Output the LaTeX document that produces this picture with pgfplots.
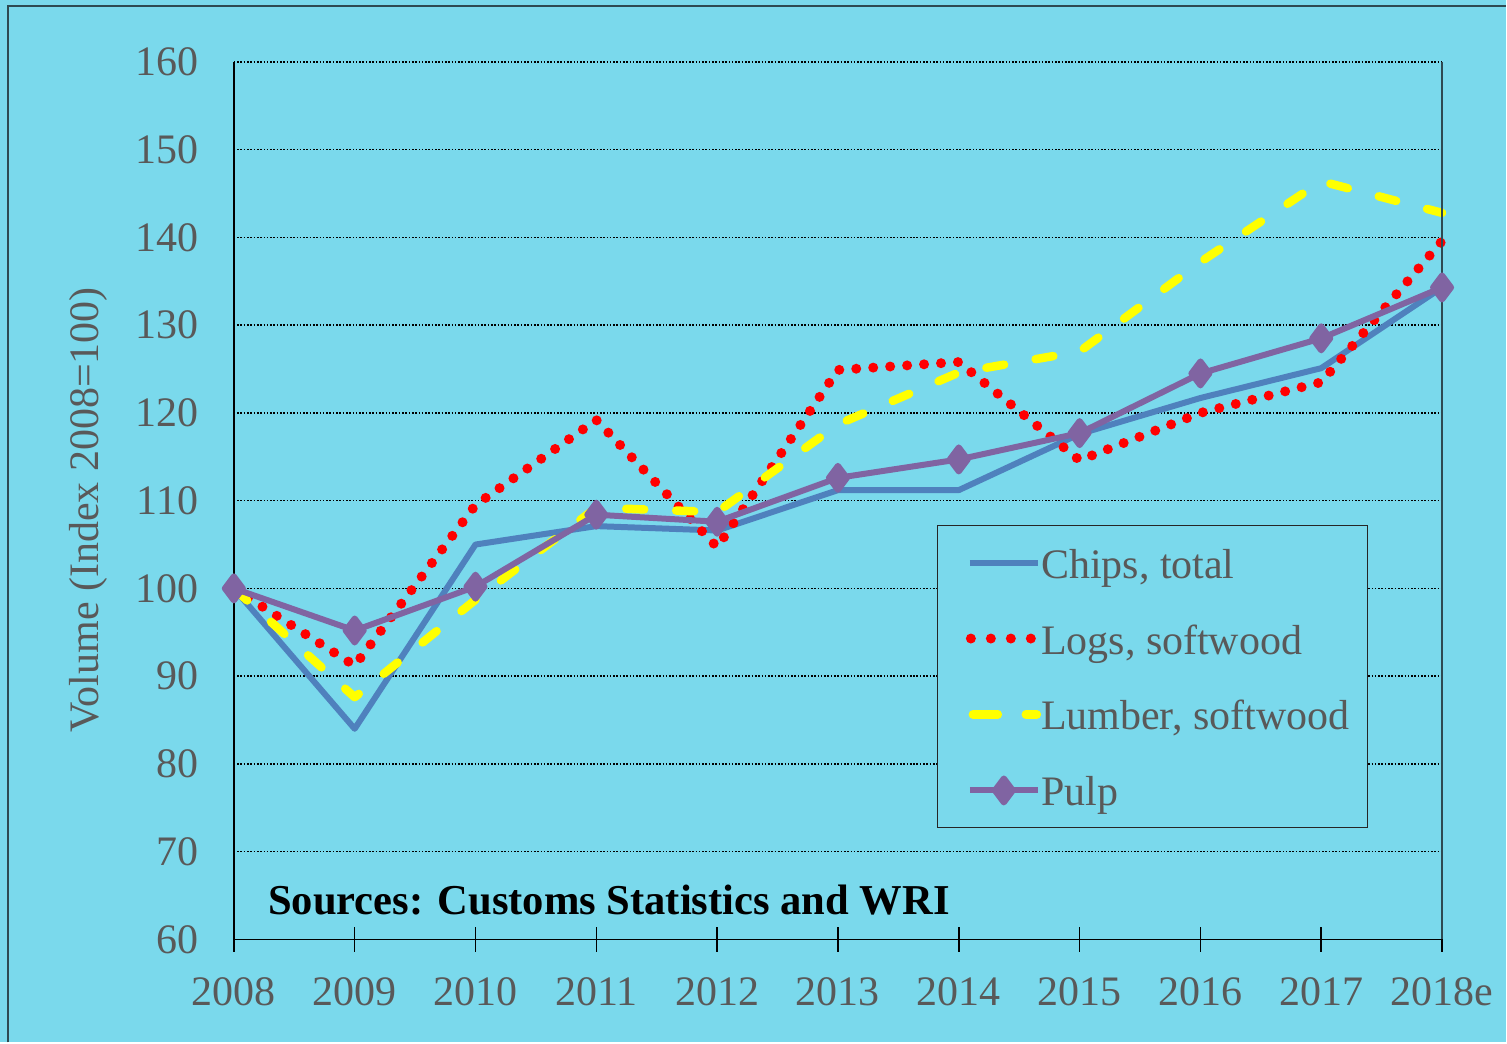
\documentclass[border=0pt]{standalone}
\usepackage{fontspec}
\setmainfont{Liberation Serif}
\usepackage{pgfplots}
\pgfplotsset{compat=1.18}
\definecolor{bg}{HTML}{7AD9EC}
\definecolor{txt}{HTML}{595959}
\definecolor{chips}{HTML}{4F81BD}
\definecolor{logs}{HTML}{FF0000}
\definecolor{lumber}{HTML}{FFFF00}
\definecolor{pulp}{HTML}{8064A2}
\definecolor{frame}{HTML}{2E4A52}
\pgfplotsset{
  legline/.style={legend image code/.code={\path (0pt,0pt); \draw[##1] (4.5pt,0pt) -- (38.5pt,0pt);}},
  legdots/.style={legend image code/.code={\path (0pt,0pt); \draw[##1, dash pattern=on 0pt off 10pt] (5pt,0pt) -- (36pt,0pt);}},
  legdash/.style={legend image code/.code={\path (0pt,0pt); \draw[##1, dash pattern=on 12.5pt off 14pt] (6pt,0pt) -- (38pt,0pt);}},
  legmark/.style={legend image code/.code={\path (0pt,0pt); \draw[##1, mark indices={2}] plot coordinates {(4.5pt,0pt) (21.5pt,0pt) (38.5pt,0pt)};}},
}
\begin{document}
\begin{tikzpicture}
\fill[bg] (0,0) rectangle (753.5pt,521.5pt);
\draw[frame,line width=1pt] (4.25pt,0) -- (4.25pt,518.5pt) -- (753.5pt,518.5pt);
\begin{axis}[
  at={(117pt,51.5pt)}, anchor=south west,
  scale only axis, width=604.5pt, height=439pt,
  xmin=0, xmax=10, ymin=60, ymax=160,
  xtick={0,...,10},
  xticklabels={2008,2009,2010,2011,2012,2013,2014,2015,2016,2017,2018e},
  ytick={60,70,...,160},
  axis x line*=bottom, axis y line*=left,
  axis line style={black, line width=0.75pt},
  x axis line style={-}, y axis line style={-},
  tick align=center,
  major tick length=12.5pt,
  xtick style={black, line width=0.75pt},
  ytick style={draw=none},
  ymajorgrids,
  grid style={black, line width=0.8pt, dash pattern=on 0.8pt off 0.85pt},
  /pgf/number format/assume math mode=true,
  tick label style={font=\fontsize{21}{25}\selectfont, text=txt},
  xticklabel style={anchor=base, yshift=-27pt},
  yticklabel style={xshift=-8pt},
  ylabel={Volume (Index 2008=100)},
  every axis y label/.style={at={(axis description cs:-0.1200,0.4897)}, rotate=90, anchor=center, font=\fontsize{21}{25}\selectfont, text=txt},
  clip=false,
  legend style={at={(rel axis cs:0.5823,0.4727)}, anchor=north west,
    fill=bg, draw=black!85, line width=0.5pt,
    inner xsep=9pt, inner ysep=7.75pt,
    row sep=16pt,
    font=\fontsize{21}{25}\selectfont, text=txt,
    nodes={text height=18.75pt, text depth=3.25pt, inner xsep=0pt, inner ysep=0pt},
    /tikz/every even column/.append style={column sep=3.5pt}},
  legend cell align=left,
]
\addplot[chips, line width=3pt, line join=round, legline]
  coordinates {(0,100) (1,84.0) (2,105.0) (3,107.1) (4,106.6) (5,111.2) (6,111.2) (7,117.6) (8,121.7) (9,125.1) (10,134.3)};
\addlegendentry{Chips, total}
\addplot[logs, line width=5pt, line cap=round, dash pattern=on 0pt off 8.5pt, legdots]
  coordinates {(0,100) (1,91.2) (2,109.5) (3,119.2) (4,104.7) (5,124.9) (6,125.8) (7,114.6) (8,120.0) (9,123.5) (10,139.6)};
\addlegendentry{Logs, softwood}
\addplot[lumber, line width=4.25pt, line cap=round, line join=round, dash pattern=on 9pt off 16pt, legdash]
  coordinates {(0,100) (1,87.6) (2,98.7) (3,109.2) (4,108.7) (5,118.7) (6,124.6) (7,127.0) (8,137.2) (9,146.4) (10,142.8)};
\addlegendentry{Lumber, softwood}
\addplot[pulp, line width=3pt, line join=round, mark=diamond*, mark size=6pt,
  mark options={solid, fill=pulp, draw=none}, legmark]
  coordinates {(0,100) (1,95.2) (2,100.2) (3,108.4) (4,107.6) (5,112.6) (6,114.7) (7,117.7) (8,124.5) (9,128.5) (10,134.3)};
\addlegendentry{Pulp}
\node[anchor=base west, inner sep=0pt, font=\fontsize{21.3}{25}\selectfont\bfseries, text=black] at (rel axis cs:0.0281,0.0285) {Sources: Customs Statistics and WRI};
\draw[frame, line width=0.75pt] (rel axis cs:1,0) -- (rel axis cs:1,1);
\end{axis}
\end{tikzpicture}
\end{document}
